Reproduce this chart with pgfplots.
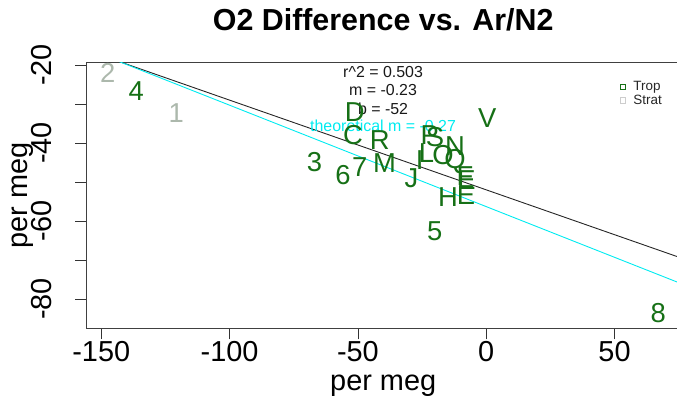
\documentclass[border=0pt]{standalone}
\usepackage{pgfplots}
\pgfplotsset{compat=1.18}
\usepackage{pgfplotstable}
\usepackage{fontspec}
\setmainfont{Liberation Sans}
\definecolor{tropgreen}{RGB}{22,112,22}
\definecolor{stratgray}{RGB}{172,184,172}
\definecolor{legstrat}{RGB}{205,205,205}
\definecolor{theocyan}{RGB}{0,235,240}

\pgfplotstableread{
x y label
-136.4 -26.8 4
-66.9 -44.8 3
-55.8 -48.2 6
-49.3 -46.1 7
-20.1 -62.7 5
67.0 -83.7 8
-51.2 -32.0 D
-51.9 -37.9 C
-41.5 -39.2 R
-39.6 -45.2 M
-29.1 -49.1 J
-25.9 -44.4 I
-22.0 -37.9 P
-20.0 -38.5 S
-12.2 -40.9 N
-23.3 -42.6 L
-16.8 -43.1 O
-12.2 -44.8 Q
-7.7 -49.5 E
-8.3 -48.5 F
-7.9 -53.4 E
-14.9 -53.8 H
0.4 -33.7 V
}\trop

\pgfplotstableread{
x y label
-147.5 -22.1 2
-120.8 -32.4 1
}\strat

\pgfplotstableread{
x y
-160 -15.2
80 -70.4
}\fitline

\pgfplotstableread{
x y
-160 -14.7
80 -77.1
}\theoline

\begin{document}
\begin{tikzpicture}
\clip (-86.4bp,-69.7bp) rectangle (590.6bp,328.3bp);
\begin{axis}[
  scale only axis,
  width=593.6bp, height=265.6bp,
  xmin=-155.8, xmax=75.5,
  ymin=-87.5, ymax=-19.4,
  axis line style={black!75, line width=0.8bp},
  tick style={black!80, line width=0.8bp},
  tick align=outside,
  major tick length=11bp,
  xtick pos=bottom, ytick pos=left,
  xtick={-150,-100,-50,0,50},
  xticklabels={-150,-100,-50,0,50},
  ytick={-80,-70,-60,-50,-40,-30,-20},
  yticklabels={-80,,-60,,-40,,-20},
  /pgf/number format/assume math mode=true,
  xticklabel style={font=\fontsize{29}{32}\selectfont, anchor=center, yshift=-12bp},
  yticklabel style={font=\fontsize{29}{32}\selectfont, anchor=center, xshift=-34bp, rotate=90},
  xlabel={per meg},
  ylabel={per meg},
  xlabel style={font=\fontsize{29}{32}\selectfont, at={(axis description cs:0.5,0)}, anchor=center, yshift=-57bp},
  ylabel style={font=\fontsize{29}{32}\selectfont, at={(axis description cs:0,0.5)}, anchor=center, yshift=63.4bp},
  title={O2 Difference vs. Ar/N2},
  title style={font=\fontsize{30.5}{33}\selectfont\bfseries, at={(axis description cs:0.5,1)}, anchor=center, yshift=37bp},
  legend style={draw=none, fill=none, at={(axis description cs:0.899,0.935)}, anchor=north west,
    font=\fontsize{13.5}{13.5}\selectfont, row sep=0.5bp, inner sep=0pt,
    nodes={inner sep=1.2bp, text=black!85}},
  legend cell align=left,
  clip=true,
]
\addlegendimage{legend image code/.code={\draw[tropgreen, line width=0.8bp] (0bp,-2.6bp) rectangle (5.2bp,2.6bp);}}
\addlegendentry{\hspace{6bp}Trop}
\addlegendimage{legend image code/.code={\draw[legstrat, line width=0.8bp] (0bp,-2.6bp) rectangle (5.2bp,2.6bp);}}
\addlegendentry{\hspace{6bp}Strat}

\addplot[forget plot, draw=black!85, line width=0.9bp] table[x=x, y=y] {\fitline};
\addplot[forget plot, draw=theocyan, line width=0.9bp] table[x=x, y=y] {\theoline};

\addplot[forget plot, only marks, mark=none, point meta=explicit symbolic,
  nodes near coords,
  nodes near coords style={anchor=center, inner sep=0pt, text=stratgray, font=\fontsize{27.5}{30}\selectfont}]
  table[x=x, y=y, meta=label] {\strat};
\addplot[forget plot, only marks, mark=none, point meta=explicit symbolic,
  nodes near coords,
  nodes near coords style={anchor=center, inner sep=0pt, text=tropgreen, font=\fontsize{27.5}{30}\selectfont}]
  table[x=x, y=y, meta=label] {\trop};

\node[font=\fontsize{16}{18}\selectfont, text=black!90, inner sep=0pt] at (axis cs:-40.2,-21.7) {r\^{}2 = 0.503};
\node[font=\fontsize{16}{18}\selectfont, text=black!90, inner sep=0pt] at (axis cs:-40.2,-26.4) {m = -0.23};
\node[font=\fontsize{16}{18}\selectfont, text=black!90, inner sep=0pt] at (axis cs:-40.2,-31.1) {b = -52};
\node[font=\fontsize{16}{18}\selectfont, text=theocyan, inner sep=0pt] at (axis cs:-40.2,-35.6) {theoretical m = -0.27};
\end{axis}
\end{tikzpicture}
\end{document}
